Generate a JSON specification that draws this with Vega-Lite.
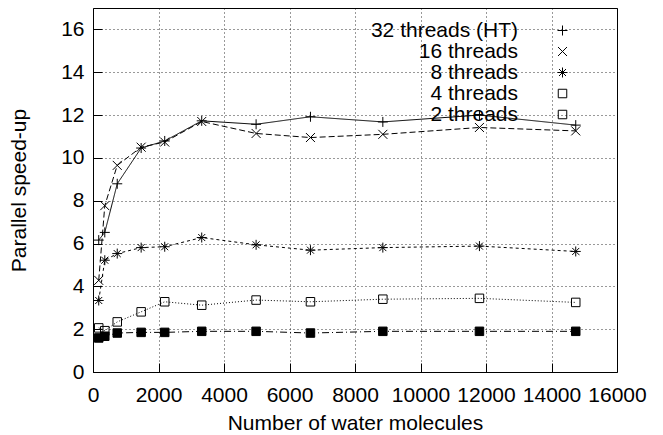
{
  "$schema": "https://vega.github.io/schema/vega-lite/v6.json",
  "width": 524,
  "height": 364,
  "autosize": {"type": "none"},
  "padding": {"left": 93, "top": 8, "right": 46, "bottom": 63},
  "background": "white",
  "data": {
    "values": [
      {"n": 175, "s": 6.16, "series": "32 threads (HT)"},
      {"n": 360, "s": 6.52, "series": "32 threads (HT)"},
      {"n": 740, "s": 8.79, "series": "32 threads (HT)"},
      {"n": 1470, "s": 10.46, "series": "32 threads (HT)"},
      {"n": 2190, "s": 10.79, "series": "32 threads (HT)"},
      {"n": 3320, "s": 11.73, "series": "32 threads (HT)"},
      {"n": 4980, "s": 11.57, "series": "32 threads (HT)"},
      {"n": 6640, "s": 11.92, "series": "32 threads (HT)"},
      {"n": 8850, "s": 11.68, "series": "32 threads (HT)"},
      {"n": 11800, "s": 12.0, "series": "32 threads (HT)"},
      {"n": 14740, "s": 11.53, "series": "32 threads (HT)"},
      {"n": 175, "s": 4.28, "series": "16 threads"},
      {"n": 360, "s": 7.77, "series": "16 threads"},
      {"n": 740, "s": 9.65, "series": "16 threads"},
      {"n": 1470, "s": 10.5, "series": "16 threads"},
      {"n": 2190, "s": 10.74, "series": "16 threads"},
      {"n": 3320, "s": 11.7, "series": "16 threads"},
      {"n": 4980, "s": 11.14, "series": "16 threads"},
      {"n": 6640, "s": 10.95, "series": "16 threads"},
      {"n": 8850, "s": 11.1, "series": "16 threads"},
      {"n": 11800, "s": 11.42, "series": "16 threads"},
      {"n": 14740, "s": 11.26, "series": "16 threads"},
      {"n": 175, "s": 3.34, "series": "8 threads"},
      {"n": 360, "s": 5.22, "series": "8 threads"},
      {"n": 740, "s": 5.53, "series": "8 threads"},
      {"n": 1470, "s": 5.81, "series": "8 threads"},
      {"n": 2190, "s": 5.85, "series": "8 threads"},
      {"n": 3320, "s": 6.28, "series": "8 threads"},
      {"n": 4980, "s": 5.94, "series": "8 threads"},
      {"n": 6640, "s": 5.69, "series": "8 threads"},
      {"n": 8850, "s": 5.81, "series": "8 threads"},
      {"n": 11800, "s": 5.88, "series": "8 threads"},
      {"n": 14740, "s": 5.63, "series": "8 threads"},
      {"n": 175, "s": 2.06, "series": "4 threads"},
      {"n": 360, "s": 1.93, "series": "4 threads"},
      {"n": 740, "s": 2.34, "series": "4 threads"},
      {"n": 1470, "s": 2.81, "series": "4 threads"},
      {"n": 2190, "s": 3.28, "series": "4 threads"},
      {"n": 3320, "s": 3.12, "series": "4 threads"},
      {"n": 4980, "s": 3.36, "series": "4 threads"},
      {"n": 6640, "s": 3.28, "series": "4 threads"},
      {"n": 8850, "s": 3.4, "series": "4 threads"},
      {"n": 11800, "s": 3.44, "series": "4 threads"},
      {"n": 14740, "s": 3.25, "series": "4 threads"},
      {"n": 175, "s": 1.59, "series": "2 threads"},
      {"n": 360, "s": 1.67, "series": "2 threads"},
      {"n": 740, "s": 1.82, "series": "2 threads"},
      {"n": 1470, "s": 1.85, "series": "2 threads"},
      {"n": 2190, "s": 1.85, "series": "2 threads"},
      {"n": 3320, "s": 1.9, "series": "2 threads"},
      {"n": 4980, "s": 1.9, "series": "2 threads"},
      {"n": 6640, "s": 1.82, "series": "2 threads"},
      {"n": 8850, "s": 1.9, "series": "2 threads"},
      {"n": 11800, "s": 1.9, "series": "2 threads"},
      {"n": 14740, "s": 1.9, "series": "2 threads"}
    ]
  },
  "encoding": {
    "x": {
      "field": "n", "type": "quantitative",
      "scale": {"domain": [0, 16000], "nice": false},
      "axis": {
        "orient": "bottom",
        "title": "Number of water molecules",
        "values": [0, 2000, 4000, 6000, 8000, 10000, 12000, 14000, 16000],
        "format": "d",
        "grid": true,
        "labelPadding": 21,
        "titlePadding": 7
      }
    },
    "y": {
      "field": "s", "type": "quantitative",
      "scale": {"domain": [0, 17], "nice": false},
      "axis": {
        "orient": "left",
        "title": "Parallel speed-up",
        "values": [0, 2, 4, 6, 8, 10, 12, 14, 16],
        "grid": true,
        "labelPadding": 18,
        "titlePadding": 31
      }
    }
  },
  "layer": [
    {
      "mark": {"type": "line", "stroke": "black", "strokeWidth": 1},
      "encoding": {
        "strokeDash": {
          "field": "series", "type": "nominal",
          "scale": {
            "domain": ["2 threads", "4 threads", "8 threads", "16 threads", "32 threads (HT)"],
            "range": [[7, 3, 1, 3], [1, 2], [3, 3], [6, 3], [1, 0]]
          },
          "legend": null
        }
      }
    },
    {
      "mark": {"type": "point", "filled": false, "stroke": "black", "strokeWidth": 1, "size": 100, "opacity": 1},
      "encoding": {
        "shape": {
          "field": "series", "type": "nominal",
          "scale": {
            "domain": ["32 threads (HT)", "16 threads", "8 threads", "4 threads", "2 threads"],
            "range": [
              "M-1,0L1,0M0,-1L0,1",
              "M-0.9,-0.9L0.9,0.9M-0.9,0.9L0.9,-0.9",
              "M-1,0L1,0M0,-1L0,1M-0.7,-0.7L0.7,0.7M-0.7,0.7L0.7,-0.7",
              "M-0.85,-0.85L0.85,-0.85L0.85,0.85L-0.85,0.85Z",
              "M-0.85,-0.85L0.85,-0.85L0.85,0.85L-0.85,0.85Z"
            ]
          },
          "legend": {
            "orient": "none",
            "legendX": 459,
            "legendY": 12,
            "title": null,
            "padding": 0,
            "labelAlign": "right",
            "labelOffset": -55,
            "rowPadding": -2,
            "symbolSize": 100,
            "symbolStrokeWidth": 1,
            "symbolStrokeColor": "black",
            "encode": {
              "symbols": {
                "shape": {
                  "condition": [
                    {"test": "datum.value === '32 threads (HT)'", "value": "M-6,0L6,0M0,-1L0,1"},
                    {"test": "datum.value === '16 threads'", "value": "M-6,0L-4.8,0M-4.2,0L-3,0M-2.4,0L-1.2,0M1.2,0L2.4,0M3,0L4.2,0M4.8,0L6,0M-0.9,-0.9L0.9,0.9M-0.9,0.9L0.9,-0.9"},
                    {"test": "datum.value === '8 threads'", "value": "M-6,0L-5.4,0M-4.8,0L-4.2,0M-3.6,0L-3,0M-2.4,0L-1.8,0M1.8,0L2.4,0M3,0L3.6,0M4.2,0L4.8,0M5.4,0L6,0M-1,0L1,0M0,-1L0,1M-0.7,-0.7L0.7,0.7M-0.7,0.7L0.7,-0.7"},
                    {"test": "datum.value === '4 threads'", "value": "M-6,0L-5.8,0M-5.4,0L-5.2,0M-4.8,0L-4.6,0M-4.2,0L-4,0M-3.6,0L-3.4,0M-3,0L-2.8,0M-2.4,0L-2.2,0M-1.8,0L-1.6,0M-1.2,0L-1,0M1,0L1.2,0M1.6,0L1.8,0M2.2,0L2.4,0M2.8,0L3,0M3.4,0L3.6,0M4,0L4.2,0M4.6,0L4.8,0M5.2,0L5.4,0M5.8,0L6,0M-0.85,-0.85L0.85,-0.85L0.85,0.85L-0.85,0.85Z"}
                  ],
                  "value": "M-6,0L-4.6,0M-4,0L-3.8,0M-3.2,0L-1.8,0M-1.2,0L-1,0M1,0L1.2,0M1.8,0L3.2,0M3.8,0L4,0M4.6,0L6,0M-0.85,-0.85L0.85,-0.85L0.85,0.85L-0.85,0.85Z"
                },
                "fill": {
                  "condition": {"test": "datum.value === '2 threads'", "value": "black"},
                  "value": "transparent"
                },
                "stroke": {"value": "black"},
                "size": {"value": 100},
                "opacity": {"value": 1}
              }
            }
          }
        },
        "fill": {
          "condition": {"test": "datum.series === '2 threads'", "value": "black"},
          "value": "transparent"
        }
      }
    }
  ],
  "config": {
    "font": "Liberation Sans",
    "view": {"stroke": "black", "strokeWidth": 1},
    "axis": {
      "domain": false,
      "tickSize": -9,
      "tickColor": "black",
      "tickWidth": 1,
      "labelOverlap": false,
      "labelFlush": false,
      "labelFont": "Liberation Sans",
      "labelFontSize": 21,
      "labelColor": "black",
      "titleFont": "Liberation Sans",
      "titleFontSize": 21,
      "titleFontWeight": "normal",
      "titleColor": "black",
      "gridColor": "black",
      "gridDash": [1, 3],
      "gridWidth": 1,
      "gridOpacity": 0.8
    },
    "legend": {
      "labelFont": "Liberation Sans",
      "labelFontSize": 21,
      "labelColor": "black"
    }
  }
}
